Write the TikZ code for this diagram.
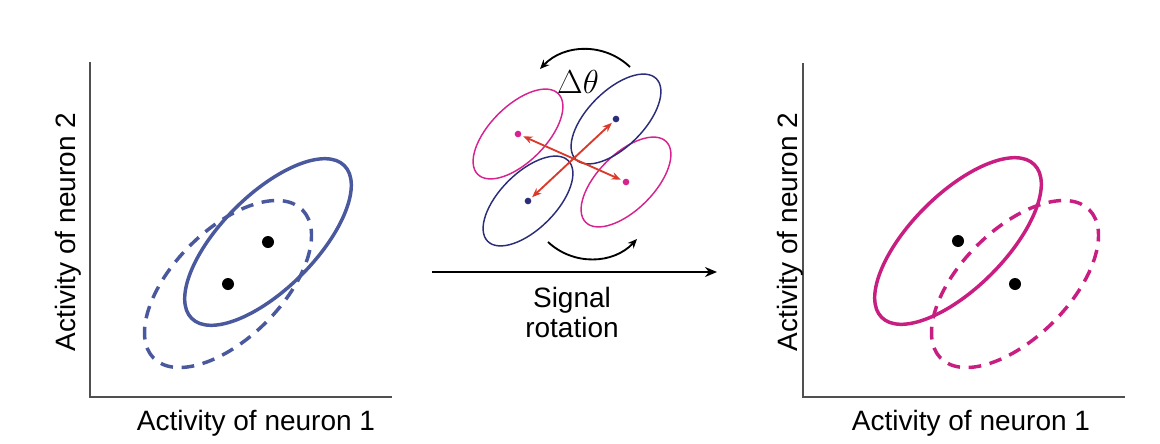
\documentclass[tikz,border=0pt]{standalone}
\usepackage{fontspec}
\setmainfont{Liberation Sans}
\usepackage{xcolor}
\usetikzlibrary{arrows.meta}

\definecolor{plotblue}{RGB}{74,88,158}
\definecolor{plotmag}{RGB}{200,30,130}
\definecolor{smallblue}{RGB}{43,45,120}
\definecolor{smallmag}{RGB}{214,35,143}
\definecolor{arrowred}{RGB}{217,58,44}
\definecolor{axisgray}{RGB}{80,80,80}

\begin{document}
\begin{tikzpicture}[
    x=0.75pt, y=-0.75pt,
    font=\fontsize{21}{22.5}\selectfont,
    dot/.style={circle, fill=#1, inner sep=0pt, minimum size=9pt},
    dot/.default=black,
    smalldot/.style={circle, fill=#1, inner sep=0pt, minimum size=5pt},
    axis/.style={draw=axisgray, line width=1.1pt},
    ring/.style={draw=#1, line width=2.6pt},
    dashring/.style={draw=#1, line width=2.6pt, dash pattern=on 9.5pt off 6.5pt},
    thinring/.style={draw=#1, line width=1.1pt},
    swing/.style={line width=1.4pt, -{Stealth[length=7pt, width=6pt]}},
    vec/.style={arrowred, line width=1.4pt,
        {Stealth[length=7pt, width=5.5pt]}-{Stealth[length=7pt, width=5.5pt]},
        shorten <=1.5pt, shorten >=1.5pt}
]

    \useasboundingbox (0,0) rectangle (1160,443);

    % Axes
    \coordinate (ltop) at (90,62);
    \coordinate (lorig) at (90,397);
    \coordinate (lend) at (392,397);
    \coordinate (rtop) at (803,63);
    \coordinate (rorig) at (803,397);
    \coordinate (rend) at (1125,397);
    \draw[axis] (ltop) -- (lorig) -- (lend);
    \draw[axis] (rtop) -- (rorig) -- (rend);

    % Axis labels
    \node[anchor=base] (lxlab) at (256,430) {Activity of neuron 1};
    \node[anchor=base] (rxlab) at (971,430) {Activity of neuron 1};
    \node[anchor=base, rotate=90] (lylab) at (75,232) {Activity of neuron 2};
    \node[anchor=base, rotate=90] (rylab) at (797,232) {Activity of neuron 2};

    % Left plot (before)
    \node[dot] (lup) at (268,242) {};
    \node[dot] (llo) at (228,284) {};
    \draw[ring=plotblue, shift={(lup)}, rotate=45] (0,0) ellipse [x radius=108, y radius=47];
    \draw[dashring=plotblue, shift={(llo)}, rotate=45] (0,0) ellipse [x radius=105, y radius=54];

    % Right plot (after)
    \node[dot] (rup) at (958,241) {};
    \node[dot] (rlo) at (1015,284) {};
    \draw[ring=plotmag, shift={(rup)}, rotate=45] (0,0) ellipse [x radius=108, y radius=47];
    \draw[dashring=plotmag, shift={(rlo)}, rotate=45] (0,0) ellipse [x radius=105, y radius=54];

    % Rotation sketch
    \node[smalldot=smallmag] (mul) at (518,134) {};
    \node[smalldot=smallmag] (mlr) at (626,182) {};
    \node[smalldot=smallblue] (bur) at (616,119) {};
    \node[smalldot=smallblue] (bll) at (528,201) {};
    \draw[thinring=smallmag, shift={(mul)}, rotate=45] (0,0) ellipse [x radius=57, y radius=28];
    \draw[thinring=smallmag, shift={(mlr)}, rotate=45] (0,0) ellipse [x radius=57, y radius=28];
    \draw[thinring=smallblue, shift={(bur)}, rotate=45] (0,0) ellipse [x radius=57, y radius=28];
    \draw[thinring=smallblue, shift={(bll)}, rotate=45] (0,0) ellipse [x radius=57, y radius=28];
    \draw[vec] (mul) -- (mlr);
    \draw[vec] (bll) -- (bur);

    % Curved arrows and angle
    \coordinate (topa) at (630,67);
    \coordinate (topb) at (540,69);
    \coordinate (bota) at (548,242);
    \coordinate (botb) at (637,239);
    \draw[swing] (topa) to[bend right=45] (topb);
    \draw[swing] (bota) to[bend right=45] (botb);
    \node[font=\fontsize{24}{26}\selectfont] (dtheta) at (578,82) {$\Delta\theta$};

    % Main arrow
    \coordinate (arra) at (432,272);
    \coordinate (arrb) at (717,272);
    \draw[line width=1.4pt, -{Stealth[length=9pt, width=7.5pt]}] (arra) -- (arrb);
    \node[anchor=north, inner sep=0pt, align=center] (sig) at (572,287) {Signal\\rotation};

\end{tikzpicture}
\end{document}
